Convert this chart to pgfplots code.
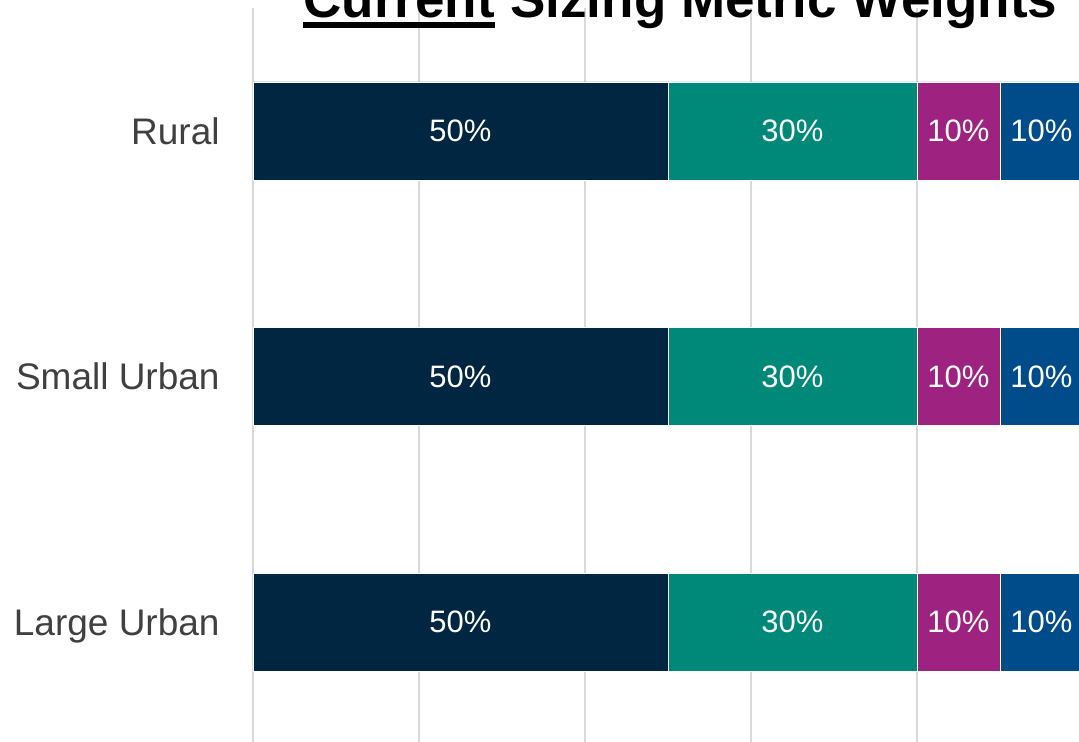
\documentclass[border=0pt]{standalone}
\usepackage{pgfplots}
\pgfplotsset{compat=1.18}
\usepackage{fontspec}
\setmainfont{Liberation Sans}
\definecolor{cnavy}{RGB}{0,38,66}
\definecolor{cteal}{RGB}{0,136,120}
\definecolor{cmag}{RGB}{158,35,128}
\definecolor{cblue}{RGB}{0,75,137}
\definecolor{labgray}{RGB}{64,64,64}
\definecolor{gridgray}{RGB}{217,217,217}
\begin{document}
\begin{tikzpicture}
\useasboundingbox (0,0) rectangle (539.5pt,370.5pt);
\clip (0,0) rectangle (539.5pt,370.5pt);
\pgfplotsset{common/.style={
  at={(126.5pt,-2pt)}, anchor=south west, scale only axis,
  width=415pt, height=368.5pt,
  xmin=0, xmax=1, ymin=-0.5, ymax=2.5, y dir=reverse,
  enlargelimits=false,
}}
\begin{axis}[common,
  xbar stacked, bar width=49pt,
  xtick={0,0.2,0.4,0.6,0.8,1}, xticklabels={},
  ytick={0,1,2}, yticklabels={Rural,Small Urban,Large Urban},
  major tick length=0pt, major tick style={draw=none},
  axis line style={draw=none},
  xmajorgrids, major grid style={draw=gridgray, line width=1pt},
  yticklabel style={font=\fontsize{18.5pt}{22pt}\selectfont, text=labgray,
    anchor=east, inner sep=0pt, xshift=-16.5pt, text height=13.25pt, text depth=0pt},
]
\addplot[fill=cnavy, draw=white, line width=0.3pt] coordinates {(0.5,0) (0.5,1) (0.5,2)};
\addplot[fill=cteal, draw=white, line width=0.3pt] coordinates {(0.3,0) (0.3,1) (0.3,2)};
\addplot[fill=cmag, draw=white, line width=0.3pt] coordinates {(0.1,0) (0.1,1) (0.1,2)};
\addplot[fill=cblue, draw=white, line width=0.3pt] coordinates {(0.1,0) (0.1,1) (0.1,2)};
\end{axis}
\begin{axis}[common, hide axis]
\addplot[only marks, mark=none, point meta=explicit,
  nodes near coords={\pgfmathprintnumber{\pgfplotspointmeta}\%},
  nodes near coords style={anchor=center, text=white, inner sep=0pt,
    font=\fontsize{15.5pt}{18pt}\selectfont,
    /pgf/number format/assume math mode=true}]
  table[meta=m] {
x y m
0.25 0 50
0.65 0 30
0.85 0 10
0.95 0 10
0.25 1 50
0.65 1 30
0.85 1 10
0.95 1 10
0.25 2 50
0.65 2 30
0.85 2 10
0.95 2 10
};
\end{axis}
\node[anchor=base west, inner sep=0pt, font=\bfseries\fontsize{26.5pt}{30pt}\selectfont] (cur) at (151.5pt,361.5pt) {Current};
\node[anchor=base west, inner sep=0pt, font=\bfseries\fontsize{26.5pt}{30pt}\selectfont] at (cur.base east) {~Sizing Metric Weights};
\draw[line width=3pt] ([yshift=-3.7pt]cur.base west) -- ([yshift=-3.7pt]cur.base east);
\end{tikzpicture}
\end{document}
